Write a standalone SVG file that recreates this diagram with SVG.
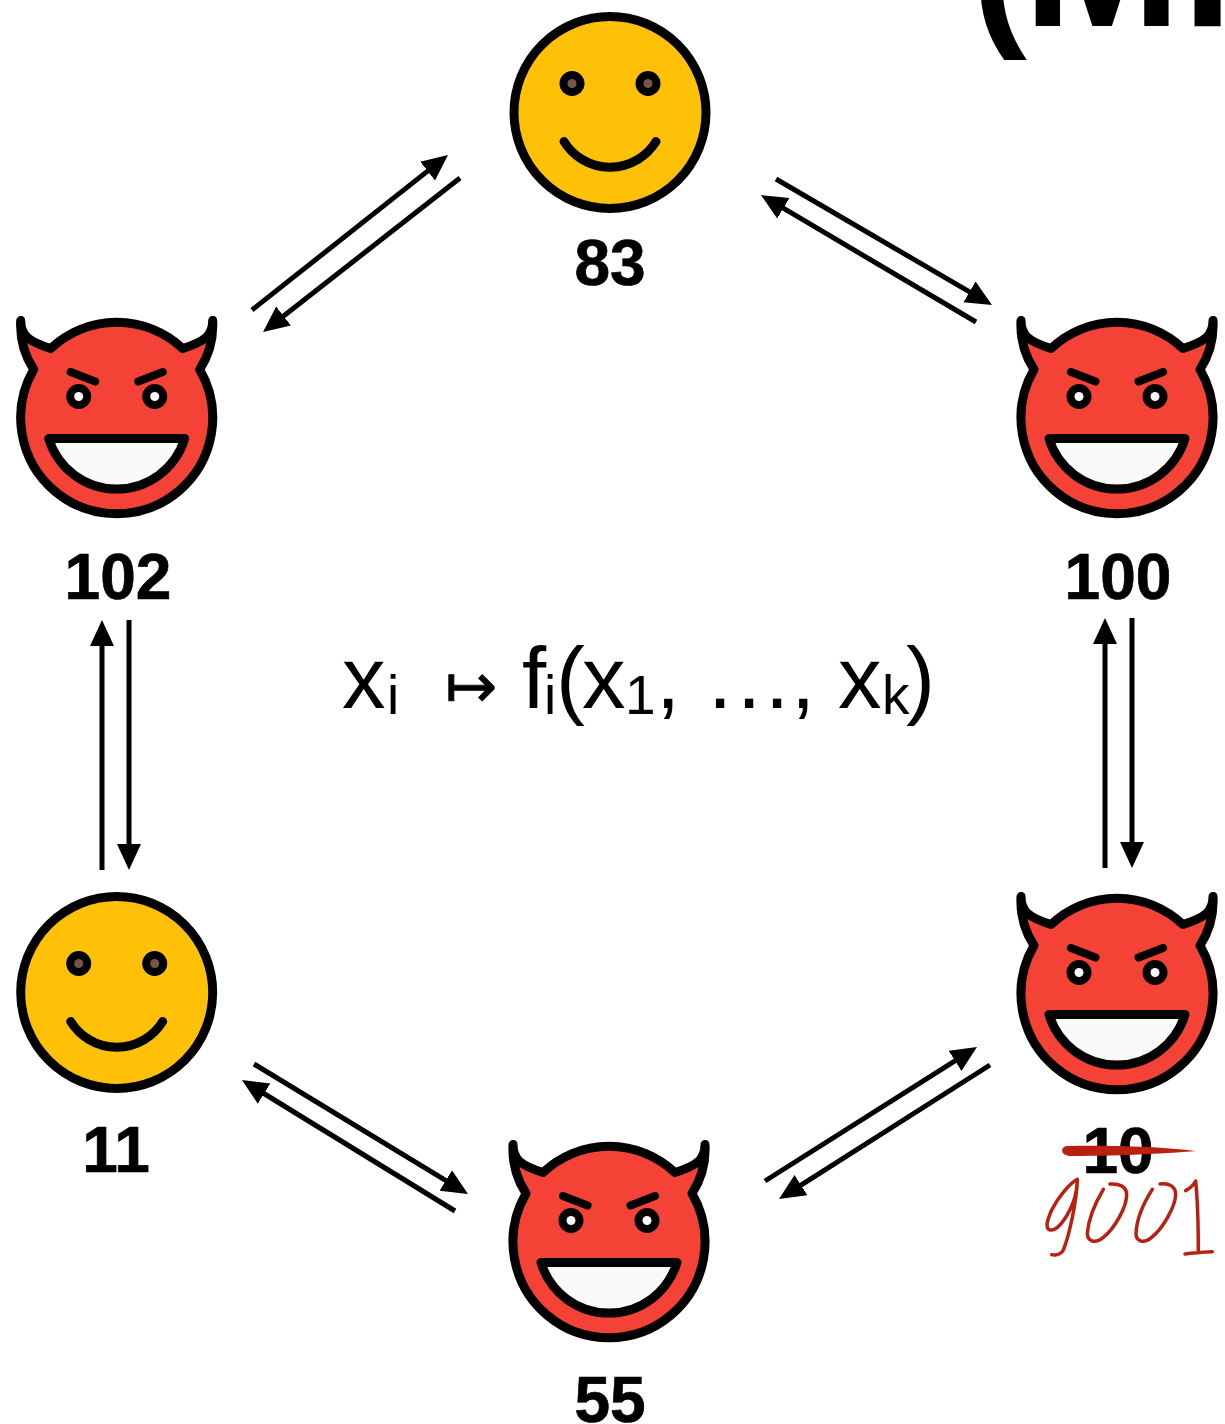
<svg xmlns="http://www.w3.org/2000/svg" width="1225" height="1424" viewBox="0 0 1225 1424">
<style>
.lbl{font:bold 64px "Liberation Sans",Arial,sans-serif;fill:#000;stroke:#000;stroke-width:.7;text-anchor:middle}
.f{font-family:"Liberation Sans",Arial,sans-serif;fill:#000}
.big{font-size:87px}.sub{font-size:55px}
.o{stroke:#000;stroke-width:9;stroke-linejoin:round;stroke-linecap:round}
.a{stroke:#000;stroke-width:5;fill:none;marker-end:url(#h)}
.h{fill:none;stroke:#b92010;stroke-width:10.500;stroke-linecap:round;stroke-linejoin:round}
</style>
<defs>
<marker id="h" markerUnits="userSpaceOnUse" markerWidth="28" markerHeight="26" refX="6" refY="12" orient="auto"><path d="M0 0L26 12L0 24Z" fill="#000"/></marker>
<g id="smile">
<circle r="96" fill="#ffc107" class="o"/>
<circle cx="-38" cy="-29" r="12.500" fill="#000"/><circle cx="38" cy="-29" r="12.500" fill="#000"/>
<circle cx="-38" cy="-29" r="4.500" fill="#795548"/><circle cx="38" cy="-29" r="4.500" fill="#795548"/>
<path d="M-46 29A54 54 0 0 0 46 29" fill="none" class="o"/>
</g>
<g id="devil">
<path d="M-96 -97C-96 -82 -88 -76 -66 -69A96 96 0 0 1 66 -69C88 -76 96 -82 96 -97C97 -78 92 -62 83 -48A96 96 0 1 1 -83 -48C-92 -62 -97 -78 -96 -97Z" fill="#f44336" class="o"/>
<path d="M-46 -45.500L-21.500 -36M46 -45.500L21.500 -36" fill="none" stroke="#000" stroke-width="8" stroke-linecap="round"/>
<circle cx="-38" cy="-21" r="12.500" fill="#000"/><circle cx="38" cy="-21" r="12.500" fill="#000"/>
<circle cx="-38" cy="-21" r="4.500" fill="#fafafa"/><circle cx="38" cy="-21" r="4.500" fill="#fafafa"/>
<path d="M-68 21H68A71 71 0 0 1 -68 21Z" fill="#fafafa" class="o"/>
</g>
</defs>
<text id="title" class="f" y="26" font-weight="bold"><tspan x="972" font-size="165">(</tspan><tspan x="1023" font-size="190">Mi</tspan></text>
<g id="connectors">
<path class="a" d="M252 310L432.300 167.400"/>
<path class="a" d="M460 178L278.800 319.700"/>
<path class="a" d="M776 179L974.700 294.900"/>
<path class="a" d="M976 322L778.200 205.200"/>
<path class="a" d="M102 870V640"/>
<path class="a" d="M129 620V850"/>
<path class="a" d="M1105 868V638"/>
<path class="a" d="M1132 618V848"/>
<path class="a" d="M254 1064L450.900 1183.600"/>
<path class="a" d="M455 1211L259 1090.500"/>
<path class="a" d="M765 1181L960.100 1057.700"/>
<path class="a" d="M990 1065L795.900 1188.300"/>
</g>
<g id="n83"><use href="#smile" x="610" y="112.500"/><text class="lbl" x="610" y="284.500">83</text></g>
<g id="n102"><use href="#devil" x="116.700" y="417.500"/><text class="lbl" x="118" y="599">102</text></g>
<g id="n100"><use href="#devil" x="1117" y="417.500"/><text class="lbl" x="1118" y="599">100</text></g>
<g id="n11"><use href="#smile" x="116.700" y="992.500"/><text class="lbl" x="116" y="1172">11</text></g>
<g id="n55"><use href="#devil" x="609" y="1241.500"/><text class="lbl" x="610" y="1422">55</text></g>
<g id="n10"><use href="#devil" x="1117" y="993.500"/><text class="lbl" x="1118" y="1173">10</text>
<path d="M1067 1146C1100 1145 1160 1146 1196 1151C1170 1153 1130 1156 1070 1156C1060 1155 1060 1147 1067 1146Z" fill="#b92010"/>
<g transform="translate(1020 1100) scale(.3333)">
<path class="h" d="M172 238C150 250 115 290 95 330C80 365 75 385 90 390C115 395 150 340 165 290C170 270 172 250 172 240C170 300 150 400 130 450C122 465 105 466 95 464"/>
<path class="h" d="M250 268C225 310 205 360 202 400C202 425 225 432 250 412C285 385 320 320 320 285C320 258 295 250 270 252"/>
<path class="h" d="M397 268C370 310 350 360 348 400C348 425 370 432 395 412C430 385 465 320 467 285C468 258 445 248 420 252"/>
<path class="h" d="M497 272C510 265 522 252 527 243C535 320 535 400 535 458M495 462C520 458 550 456 577 455"/>
</g>
</g>
<g id="formula">
<text class="f big" x="342" y="708">x</text><text class="f sub" x="387" y="714">i</text>
<text x="445" y="707" font-family="DejaVu Sans,sans-serif" font-size="62" fill="#000" stroke="#000" stroke-width=".8">↦</text>
<text class="f big" x="522" y="708">f</text><text class="f sub" x="544" y="714">i</text>
<text class="f big" x="556" y="708">(</text><text class="f big" x="582" y="708">x</text>
<text class="f sub" x="625" y="714">1</text><text class="f big" x="656" y="708">,</text>
<text class="f big" x="708 737 765" y="708">...</text><text class="f big" x="791" y="708">,</text>
<text class="f big" x="838" y="708">x</text><text class="f sub" x="882" y="714">k</text>
<text class="f big" x="906" y="708">)</text>
</g>
</svg>
